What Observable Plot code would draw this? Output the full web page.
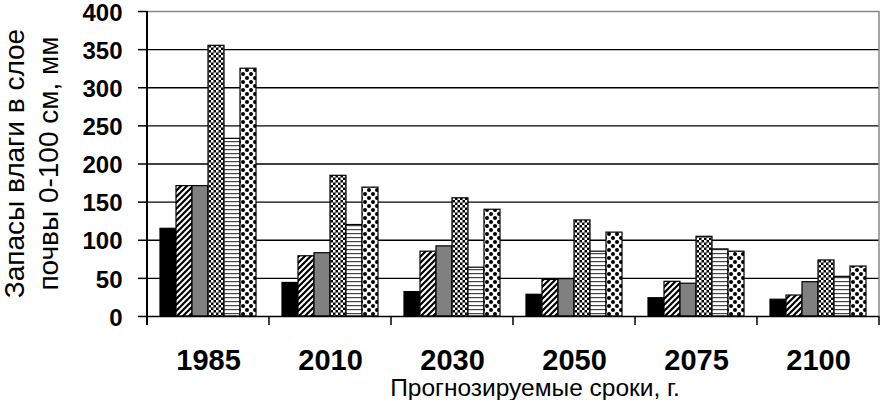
<!DOCTYPE html>
<html><head><meta charset="utf-8">
<script src="https://cdn.jsdelivr.net/npm/d3@7"></script>
<script src="https://cdn.jsdelivr.net/npm/@observablehq/plot@0.6"></script>
<style>
body{margin:0;background:#fff}
#chart svg{display:block}
</style>
</head><body><div id="chart"></div>
<script>
const years = ["1985","2010","2030","2050","2075","2100"];
const seriesNames = ["Ряд 1","Ряд 2","Ряд 3","Ряд 4","Ряд 5","Ряд 6"];
const series1 = [115, 44, 32, 28.5, 24, 22];
const series2 = [171, 79, 85, 48, 45.5, 27.5];
const series3 = [171, 83, 92, 49, 43, 45];
const series4 = [355, 184.5, 155, 126, 104.5, 73.5];
const series5 = [233, 120, 64, 85, 88, 52];
const series6 = [325, 169, 140, 110, 85, 65.5];
const yTicks = [0,50,100,150,200,250,300,350,400];
const xTitle = "Прогнозируемые сроки, г.";
const yTitle = ["Запасы влаги в слое", "почвы 0-100 см, мм"];
const fills = ["black","url(#p-hatch)","#808080","url(#p-check)","url(#p-hline)","url(#p-dots)"];

const allSeries = [series1, series2, series3, series4, series5, series6];
const data = years.flatMap((yr, i) => seriesNames.map((s, j) => ({year: yr, series: s, value: allSeries[j][i]})));

const font = "'Liberation Sans', Arial, sans-serif";
const chart = Plot.plot({
  width: 884, height: 400,
  marginLeft: 146, marginRight: 5, marginTop: 11, marginBottom: 84,
  style: {fontFamily: font, color: "black", background: "white", overflow: "visible"},
  fx: {domain: years, padding: 0},
  x: {domain: seriesNames, paddingInner: 0, paddingOuter: 0.66, axis: null},
  y: {domain: [0, 400]},
  color: {domain: seriesNames, range: fills},
  marks: [
    Plot.ruleY(yTicks.filter(v => v > 0 && v < 400), {stroke: "black", strokeWidth: 1.3}),
    Plot.ruleY([400], {stroke: "#888", strokeWidth: 1.5}),
    Plot.barY(data, {fx: "year", x: "series", y: "value", fill: "series", stroke: "black", strokeWidth: 1.2}),
    Plot.ruleY([0], {stroke: "black", strokeWidth: 1.5}),
    Plot.axisY({ticks: yTicks, tickSize: 9, tickFormat: () => null, label: null, strokeWidth: 1.5}),
    Plot.axisY({ticks: yTicks, tickSize: 0, tickPadding: 25, fontSize: 24, fontWeight: "bold", label: null, dy: 1.5}),
    Plot.axisFx({anchor: "bottom", tickSize: 0, tickPadding: 33, fontSize: 29, fontWeight: "bold", label: null})
  ]
});

const svg = d3.select(chart);
const defs = svg.insert("defs", ":first-child");
// diagonal hatch
const ph = defs.append("pattern").attr("id","p-hatch").attr("patternUnits","userSpaceOnUse").attr("width",6).attr("height",6);
ph.append("rect").attr("width",6).attr("height",6).attr("fill","white");
ph.append("path").attr("d","M-1,7 L7,-1 M-1,1 L1,-1 M5,7 L7,5").attr("stroke","black").attr("stroke-width",2.2);
// checker
const pc = defs.append("pattern").attr("id","p-check").attr("patternUnits","userSpaceOnUse").attr("width",5).attr("height",5);
pc.append("rect").attr("width",5).attr("height",5).attr("fill","black");
pc.append("rect").attr("width",2.5).attr("height",2.5).attr("fill","white");
pc.append("rect").attr("x",2.5).attr("y",2.5).attr("width",2.5).attr("height",2.5).attr("fill","white");
// horizontal lines
const pl = defs.append("pattern").attr("id","p-hline").attr("patternUnits","userSpaceOnUse").attr("width",4).attr("height",4);
pl.append("rect").attr("width",4).attr("height",4).attr("fill","white");
pl.append("rect").attr("y",1).attr("width",4).attr("height",1.2).attr("fill","#444");
// dots
const pd = defs.append("pattern").attr("id","p-dots").attr("patternUnits","userSpaceOnUse").attr("width",8).attr("height",8);
pd.append("rect").attr("width",8).attr("height",8).attr("fill","white");
pd.append("circle").attr("cx",2).attr("cy",2).attr("r",2).attr("fill","black");
pd.append("circle").attr("cx",6).attr("cy",6).attr("r",2).attr("fill","black");

const fxS = chart.scale("fx"), yS = chart.scale("y");
const left = fxS.apply(years[0]);
const right = fxS.apply(years[years.length - 1]) + fxS.bandwidth;
const y0 = yS.apply(0), yTop = yS.apply(400);
const deco = svg.append("g");
deco.append("line").attr("x1", right).attr("x2", right).attr("y1", yTop).attr("y2", y0).attr("stroke", "#888").attr("stroke-width", 1.5);
deco.append("line").attr("x1", left).attr("x2", left).attr("y1", yTop).attr("y2", y0 + 9).attr("stroke", "black").attr("stroke-width", 2);
years.forEach(yr => {
  const bx = fxS.apply(yr);
  deco.append("line").attr("x1", bx).attr("x2", bx).attr("y1", y0).attr("y2", y0 + 9).attr("stroke", "black").attr("stroke-width", 1.5);
});
deco.append("line").attr("x1", right).attr("x2", right).attr("y1", y0).attr("y2", y0 + 9).attr("stroke", "black").attr("stroke-width", 1.5);
deco.append("text").attr("x", 535).attr("y", 396).attr("text-anchor", "middle")
  .attr("font-size", 24.5).attr("font-family", font).attr("fill", "black").text(xTitle);
const yMid = (y0 + yTop) / 2;
[24, 58].forEach((bx, i) => {
  deco.append("text").attr("transform", `translate(${bx},${yMid}) rotate(-90)`).attr("text-anchor", "middle")
    .attr("font-size", 28).attr("font-family", font).attr("fill", "black").text(yTitle[i]);
});
document.getElementById("chart").appendChild(chart);
</script>
</body></html>
